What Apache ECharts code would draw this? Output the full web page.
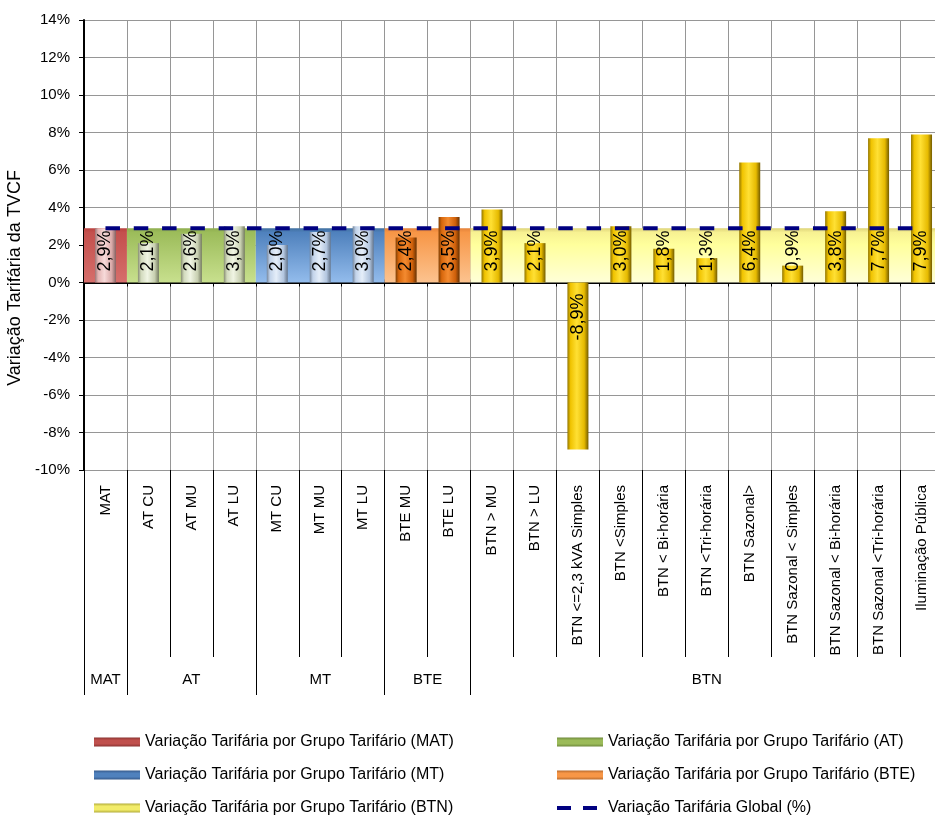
<!DOCTYPE html>
<html>
<head>
<meta charset="utf-8">
<script src="https://cdn.jsdelivr.net/npm/echarts@6/dist/echarts.min.js"></script>
<style>
  html, body { margin: 0; padding: 0; background: #fff; }
  #chart { width: 935px; height: 817px; }
</style>
</head>
<body>
<div id="chart"></div>
<script>
// Tariff options (one column each)
const categories = [
  'MAT',
  'AT CU', 'AT MU', 'AT LU',
  'MT CU', 'MT MU', 'MT LU',
  'BTE MU', 'BTE LU',
  'BTN > MU', 'BTN > LU', 'BTN <=2,3 kVA Simples', 'BTN <Simples',
  'BTN < Bi-horária', 'BTN <Tri-horária', 'BTN Sazonal>',
  'BTN Sazonal < Simples', 'BTN Sazonal < Bi-horária', 'BTN Sazonal <Tri-horária',
  'Iluminação Pública'
];
// Variation per tariff option (%)
const optionValues = [2.9, 2.1, 2.6, 3.0, 2.0, 2.7, 3.0, 2.4, 3.5,
  3.9, 2.1, -8.9, 3.0, 1.8, 1.3, 6.4, 0.9, 3.8, 7.7, 7.9];
// Tariff groups, how many options each one holds, and the group variation (%)
const groupNames = ['MAT', 'AT', 'MT', 'BTE', 'BTN'];
const groupSizes = [1, 3, 3, 2, 11];
const groupValues = [2.9, 2.9, 2.9, 2.9, 2.9];
// Global variation (%)
const globalValues = [2.9, 2.9, 2.9, 2.9, 2.9, 2.9, 2.9, 2.9, 2.9, 2.9,
  2.9, 2.9, 2.9, 2.9, 2.9, 2.9, 2.9, 2.9, 2.9, 2.9];
// Value axis
const yMin = -10, yMax = 14, yStep = 2;

const FONT = 'Liberation Sans, Arial, sans-serif';
const groupLabel = g => 'Variação Tarifária por Grupo Tarifário (' + g + ')';
const globalLabel = 'Variação Tarifária Global (%)';

// group spans in category units
let acc = 0;
const groupSpans = groupSizes.map(n => { const s = [acc, acc + n]; acc += n; return s; });
const groupOfCategory = categories.map((c, i) => groupSpans.findIndex(s => i >= s[0] && i < s[1]));

function lin(x2, y2, stops) {
  return { type: 'linear', x: 0, y: 0, x2: x2, y2: y2,
    colorStops: stops.map(s => ({ offset: s[0], color: s[1] })) };
}
// background (group) fills: top to bottom
const groupFill = [
  [[0, '#b9413f'], [0.08, '#c4504d'], [1, '#d66e6b']],
  [[0, '#8fae4f'], [0.08, '#9cbc5a'], [1, '#c8e08e']],
  [[0, '#40709f'], [0.08, '#4f81bd'], [1, '#93bcec']],
  [[0, '#e4823a'], [0.08, '#f79646'], [1, '#fcc38f']],
  [[0, '#ddd378'], [0.08, '#f7f192'], [0.3, '#ffff9c'], [1, '#ffffd8']]
];
// option bars: left to right bevel
const barFill = [
  [[0, '#9a7676'], [0.15, '#e3b4b3'], [0.45, '#f7dad9'], [0.8, '#d9a9a8'], [1, '#846262']],
  [[0, '#878d72'], [0.15, '#d2dabd'], [0.45, '#f0f5e4'], [0.8, '#c7cfb0'], [1, '#747a61']],
  [[0, '#75869c'], [0.15, '#c2d3ea'], [0.45, '#e5eef9'], [0.8, '#b3c6df'], [1, '#66768b']],
  [[0, '#7e3f05'], [0.15, '#d8670c'], [0.45, '#f48b30'], [0.8, '#cf600a'], [1, '#663203']],
  [[0, '#927600'], [0.15, '#f0c300'], [0.45, '#ffe034'], [0.8, '#e6ba00'], [1, '#735c00']]
];
const legendFill = [
  [[0, '#8c3432'], [0.3, '#c0504d'], [0.7, '#c0504d'], [1, '#8c3432']],
  [[0, '#6f8a3c'], [0.3, '#9bbb59'], [0.7, '#9bbb59'], [1, '#6f8a3c']],
  [[0, '#35598a'], [0.3, '#4f81bd'], [0.7, '#4f81bd'], [1, '#35598a']],
  [[0, '#b86a2c'], [0.3, '#f79646'], [0.7, '#f79646'], [1, '#b86a2c']],
  [[0, '#b3ad3c'], [0.3, '#f2ec6a'], [0.7, '#f2ec6a'], [1, '#b3ad3c']]
];

const fmtPct = v => v.toFixed(1).replace('.', ',') + '%';

const groupSeries = groupNames.map((g, i) => ({
  type: 'custom',
  name: groupLabel(g),
  xAxisIndex: 1,
  yAxisIndex: 0,
  z: 1,
  silent: true,
  encode: { x: [0, 1], y: 2 },
  data: [[groupSpans[i][0], groupSpans[i][1], groupValues[i]]],
  renderItem: (params, api) => {
    const a = api.coord([api.value(0), api.value(2)]);
    const b = api.coord([api.value(1), 0]);
    return {
      type: 'rect',
      shape: { x: a[0], y: Math.min(a[1], b[1]), width: b[0] - a[0], height: Math.abs(b[1] - a[1]) },
      style: { fill: lin(0, 1, groupFill[i]) }
    };
  }
}));

const barData = optionValues.map((v, i) => {
  const item = { value: v, itemStyle: { color: lin(1, 0, barFill[groupOfCategory[i]]) } };
  if (v < 0) item.label = { position: 'insideTop', align: 'right' };
  return item;
});

const legendItem = (g, i) => ({ name: groupLabel(g), icon: 'rect', itemStyle: { color: lin(0, 1, legendFill[i]) } });
const legendBase = {
  orient: 'vertical', itemWidth: 46, itemHeight: 9, itemGap: 15, top: 733, height: 84, padding: 0,
  textStyle: { fontSize: 16, color: '#000', fontFamily: FONT, lineHeight: 18 },
  selectedMode: false
};

const catAxisBase = { type: 'category', data: categories, boundaryGap: true, gridIndex: 0 };

const option = {
  animation: false,
  backgroundColor: '#fff',
  textStyle: { fontFamily: FONT },
  grid: { left: 84, right: -8, top: 20, bottom: 347, containLabel: false, outerBoundsMode: 'none' },
  legend: [
    Object.assign({ left: 94, data: [legendItem('MAT', 0), legendItem('MT', 2), legendItem('BTN', 4)] }, legendBase),
    Object.assign({ left: 555, data: [legendItem('AT', 1), legendItem('BTE', 3),
      { name: globalLabel, itemStyle: { opacity: 0 }, lineStyle: { color: '#000080', width: 4, type: [14, 12] } }] }, legendBase)
  ],
  xAxis: [
    // option labels with the long separators below the plot
    Object.assign({}, catAxisBase, {
      position: 'bottom',
      axisLine: { show: false, onZero: false },
      axisTick: { show: true, interval: 0, length: 187, lineStyle: { color: '#000', width: 1 } },
      axisLabel: { interval: 0, rotate: 90, margin: 15, fontSize: 15, color: '#000', fontFamily: FONT },
      splitLine: { show: true, interval: 0, lineStyle: { color: '#969696', width: 1 } }
    }),
    // tariff groups
    {
      type: 'value', min: 0, max: acc, position: 'bottom', gridIndex: 0,
      axisLine: { show: false, onZero: false },
      axisTick: { show: true, customValues: [0].concat(groupSpans.map(s => s[1])), length: 225,
        lineStyle: { color: '#000', width: 1 } },
      axisLabel: {
        show: true, margin: 202, fontSize: 15, color: '#000', fontFamily: FONT,
        customValues: groupSpans.map(s => (s[0] + s[1]) / 2),
        formatter: v => { const k = groupSpans.findIndex(s => (s[0] + s[1]) / 2 === v); return k >= 0 ? groupNames[k] : ''; }
      },
      splitLine: { show: false }
    },
    // zero line, ticks downwards
    Object.assign({}, catAxisBase, {
      position: 'bottom',
      axisLine: { show: true, onZero: true, lineStyle: { color: '#000', width: 2 } },
      axisTick: { show: true, interval: 0, length: 4, lineStyle: { color: '#000', width: 1 } },
      axisLabel: { show: false },
      splitLine: { show: false }
    }),
    // short ticks above the zero line
    Object.assign({}, catAxisBase, {
      position: 'top', offset: -262.5,
      axisLine: { show: false, onZero: false },
      axisTick: { show: true, interval: 0, length: 3, lineStyle: { color: '#000', width: 1 } },
      axisLabel: { show: false },
      splitLine: { show: false }
    })
  ],
  yAxis: {
    type: 'value', min: yMin, max: yMax, interval: yStep,
    name: 'Variação Tarifária da TVCF',
    nameLocation: 'middle', nameGap: 48,
    nameTextStyle: { fontSize: 18, color: '#000', fontFamily: FONT, padding: [0, 66, 0, 0] },
    axisLine: { show: true, onZero: false, lineStyle: { color: '#000', width: 2 } },
    axisTick: { show: true, length: 5, lineStyle: { color: '#000', width: 1 } },
    axisLabel: { formatter: '{value}%', fontSize: 15, color: '#000', margin: 14, fontFamily: FONT },
    splitLine: { show: true, lineStyle: { color: '#969696', width: 1 } }
  },
  series: groupSeries.concat([
    {
      type: 'bar',
      name: 'Variação Tarifária por Opção',
      xAxisIndex: 0,
      yAxisIndex: 0,
      z: 2,
      barWidth: 21,
      data: barData,
      label: {
        show: true, position: 'insideBottom', distance: 11, rotate: 90,
        align: 'left', verticalAlign: 'middle',
        fontSize: 18, color: '#000', fontFamily: FONT,
        formatter: p => fmtPct(p.value)
      }
    },
    {
      type: 'line',
      name: globalLabel,
      xAxisIndex: 0,
      yAxisIndex: 0,
      z: 3,
      symbol: 'none',
      data: globalValues,
      lineStyle: { color: '#000080', width: 4, type: [14.5, 13.8] },
      itemStyle: { color: '#000080' }
    }
  ])
};

const chart = echarts.init(document.getElementById('chart'), null, { renderer: 'canvas' });
chart.setOption(option);
</script>
</body>
</html>
